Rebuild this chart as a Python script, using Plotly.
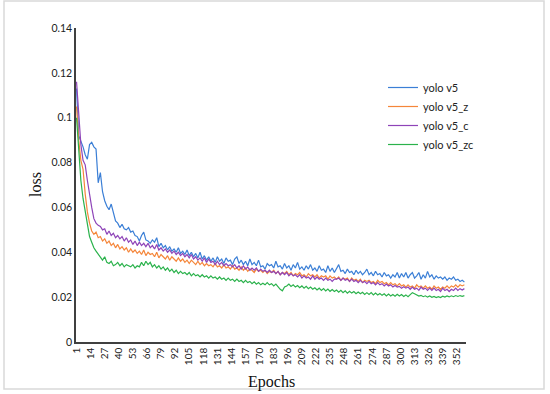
import plotly.graph_objects as go

# Epochs plotted every 2nd epoch (1, 3, 5, ..., 359)
yolo_v5 = [0.1130, 0.0920, 0.0895, 0.0870, 0.0835, 0.0815, 0.0880, 0.0890, 0.0870, 0.0860,
           0.0710, 0.0755, 0.0670, 0.0630, 0.0605, 0.0590, 0.0615, 0.0570, 0.0540, 0.0530,
           0.0510, 0.0525, 0.0505, 0.0500, 0.0510, 0.0490, 0.0495, 0.0475, 0.0470, 0.0450,
           0.0475, 0.0490, 0.0455, 0.0450, 0.0440, 0.0455, 0.0445, 0.0465, 0.0425, 0.0440,
           0.0420, 0.0430, 0.0410, 0.0425, 0.0405, 0.0415, 0.0400, 0.0420, 0.0395, 0.0405,
           0.0390, 0.0410, 0.0385, 0.0400, 0.0380, 0.0395, 0.0375, 0.0400, 0.0370, 0.0385,
           0.0365, 0.0380, 0.0360, 0.0375, 0.0355, 0.0380, 0.0360, 0.0370, 0.0350, 0.0375,
           0.0360, 0.0365, 0.0345, 0.0370, 0.0380, 0.0350, 0.0365, 0.0345, 0.0360, 0.0340,
           0.0370, 0.0345, 0.0355, 0.0340, 0.0365, 0.0335, 0.0340, 0.0325, 0.0350, 0.0340,
           0.0345, 0.0330, 0.0360, 0.0335, 0.0340, 0.0325, 0.0350, 0.0330, 0.0340, 0.0320,
           0.0345, 0.0330, 0.0355, 0.0325, 0.0335, 0.0320, 0.0340, 0.0325, 0.0345, 0.0320,
           0.0330, 0.0315, 0.0340, 0.0320, 0.0325, 0.0310, 0.0340, 0.0315, 0.0330, 0.0310,
           0.0325, 0.0345, 0.0315, 0.0320, 0.0305, 0.0325, 0.0310, 0.0315, 0.0300, 0.0320,
           0.0305, 0.0315, 0.0300, 0.0310, 0.0325, 0.0300, 0.0310, 0.0295, 0.0315, 0.0300,
           0.0305, 0.0290, 0.0310, 0.0295, 0.0300, 0.0285, 0.0300, 0.0290, 0.0310, 0.0285,
           0.0305, 0.0290, 0.0310, 0.0285, 0.0300, 0.0310, 0.0285, 0.0295, 0.0310, 0.0280,
           0.0300, 0.0285, 0.0315, 0.0290, 0.0300, 0.0280, 0.0295, 0.0285, 0.0290, 0.0280,
           0.0290, 0.0275, 0.0285, 0.0280, 0.0290, 0.0275, 0.0280, 0.0270, 0.0275, 0.0268]

yolo_v5_z = [0.1050, 0.0900, 0.0810, 0.0770, 0.0660, 0.0580, 0.0530, 0.0495, 0.0480, 0.0490,
             0.0465, 0.0470, 0.0450, 0.0460, 0.0440, 0.0450, 0.0430, 0.0440, 0.0420, 0.0435,
             0.0415, 0.0425, 0.0410, 0.0420, 0.0400, 0.0415, 0.0400, 0.0410, 0.0395, 0.0405,
             0.0390, 0.0410, 0.0385, 0.0400, 0.0390, 0.0395, 0.0380, 0.0400, 0.0375, 0.0390,
             0.0380, 0.0370, 0.0385, 0.0365, 0.0380, 0.0370, 0.0360, 0.0375, 0.0360, 0.0370,
             0.0355, 0.0365, 0.0350, 0.0365, 0.0355, 0.0345, 0.0360, 0.0345, 0.0355, 0.0340,
             0.0350, 0.0340, 0.0345, 0.0335, 0.0350, 0.0335, 0.0340, 0.0330, 0.0345, 0.0330,
             0.0335, 0.0325, 0.0340, 0.0325, 0.0330, 0.0320, 0.0335, 0.0320, 0.0330, 0.0315,
             0.0325, 0.0320, 0.0310, 0.0325, 0.0315, 0.0320, 0.0310, 0.0320, 0.0305, 0.0315,
             0.0310, 0.0320, 0.0305, 0.0315, 0.0300, 0.0310, 0.0305, 0.0315, 0.0300, 0.0310,
             0.0295, 0.0305, 0.0300, 0.0310, 0.0295, 0.0300, 0.0290, 0.0305, 0.0295, 0.0300,
             0.0290, 0.0300, 0.0285, 0.0295, 0.0290, 0.0295, 0.0280, 0.0295, 0.0285, 0.0290,
             0.0280, 0.0290, 0.0275, 0.0285, 0.0280, 0.0285, 0.0270, 0.0285, 0.0275, 0.0280,
             0.0270, 0.0280, 0.0265, 0.0275, 0.0270, 0.0275, 0.0265, 0.0270, 0.0260, 0.0275,
             0.0265, 0.0270, 0.0260, 0.0265, 0.0255, 0.0265, 0.0255, 0.0260, 0.0250, 0.0260,
             0.0250, 0.0255, 0.0245, 0.0255, 0.0245, 0.0250, 0.0240, 0.0255, 0.0245, 0.0250,
             0.0240, 0.0250, 0.0240, 0.0245, 0.0235, 0.0250, 0.0240, 0.0245, 0.0235, 0.0245,
             0.0240, 0.0250, 0.0240, 0.0250, 0.0245, 0.0255, 0.0245, 0.0255, 0.0250, 0.0255]

yolo_v5_c = [0.1160, 0.1000, 0.0880, 0.0810, 0.0790, 0.0720, 0.0650, 0.0600, 0.0550, 0.0530,
             0.0520, 0.0515, 0.0500, 0.0505, 0.0480, 0.0495, 0.0475, 0.0485, 0.0465, 0.0475,
             0.0460, 0.0470, 0.0450, 0.0465, 0.0445, 0.0455, 0.0435, 0.0450, 0.0430, 0.0445,
             0.0430, 0.0440, 0.0425, 0.0440, 0.0420, 0.0430, 0.0415, 0.0435, 0.0410, 0.0420,
             0.0405, 0.0415, 0.0400, 0.0410, 0.0395, 0.0405, 0.0390, 0.0400, 0.0385, 0.0395,
             0.0380, 0.0390, 0.0375, 0.0390, 0.0370, 0.0380, 0.0365, 0.0375, 0.0360, 0.0375,
             0.0355, 0.0370, 0.0355, 0.0360, 0.0345, 0.0360, 0.0345, 0.0355, 0.0340, 0.0350,
             0.0340, 0.0345, 0.0335, 0.0345, 0.0330, 0.0340, 0.0325, 0.0340, 0.0325, 0.0335,
             0.0320, 0.0330, 0.0320, 0.0330, 0.0315, 0.0325, 0.0315, 0.0320, 0.0310, 0.0320,
             0.0310, 0.0315, 0.0305, 0.0315, 0.0300, 0.0310, 0.0300, 0.0310, 0.0295, 0.0305,
             0.0295, 0.0300, 0.0290, 0.0300, 0.0285, 0.0295, 0.0285, 0.0290, 0.0280, 0.0295,
             0.0280, 0.0290, 0.0280, 0.0285, 0.0275, 0.0285, 0.0275, 0.0280, 0.0270, 0.0280,
             0.0280, 0.0285, 0.0275, 0.0285, 0.0275, 0.0280, 0.0270, 0.0280, 0.0270, 0.0275,
             0.0265, 0.0275, 0.0265, 0.0270, 0.0260, 0.0270, 0.0260, 0.0265, 0.0255, 0.0265,
             0.0255, 0.0260, 0.0250, 0.0258, 0.0250, 0.0255, 0.0245, 0.0252, 0.0245, 0.0248,
             0.0240, 0.0246, 0.0240, 0.0245, 0.0235, 0.0245, 0.0235, 0.0240, 0.0230, 0.0245,
             0.0235, 0.0240, 0.0230, 0.0240, 0.0230, 0.0240, 0.0230, 0.0235, 0.0225, 0.0240,
             0.0230, 0.0235, 0.0225, 0.0235, 0.0230, 0.0240, 0.0230, 0.0238, 0.0232, 0.0238]

yolo_v5_zc = [0.1000, 0.0850, 0.0720, 0.0640, 0.0580, 0.0520, 0.0470, 0.0445, 0.0420, 0.0405,
              0.0390, 0.0375, 0.0365, 0.0380, 0.0355, 0.0350, 0.0360, 0.0340, 0.0345, 0.0355,
              0.0340, 0.0350, 0.0335, 0.0345, 0.0340, 0.0335, 0.0345, 0.0330, 0.0340, 0.0335,
              0.0355, 0.0340, 0.0360, 0.0345, 0.0355, 0.0335, 0.0345, 0.0330, 0.0340, 0.0325,
              0.0335, 0.0320, 0.0330, 0.0315, 0.0325, 0.0310, 0.0320, 0.0305, 0.0315, 0.0305,
              0.0310, 0.0300, 0.0310, 0.0295, 0.0305, 0.0295, 0.0300, 0.0290, 0.0300, 0.0290,
              0.0295, 0.0285, 0.0295, 0.0285, 0.0290, 0.0280, 0.0290, 0.0280, 0.0285, 0.0275,
              0.0285, 0.0275, 0.0280, 0.0270, 0.0280, 0.0270, 0.0275, 0.0265, 0.0275, 0.0265,
              0.0270, 0.0260, 0.0268, 0.0258, 0.0265, 0.0255, 0.0262, 0.0255, 0.0265, 0.0255,
              0.0260, 0.0250, 0.0258, 0.0245, 0.0235, 0.0228, 0.0245, 0.0250, 0.0258, 0.0248,
              0.0255, 0.0245, 0.0252, 0.0242, 0.0250, 0.0240, 0.0248, 0.0238, 0.0245, 0.0235,
              0.0242, 0.0232, 0.0240, 0.0230, 0.0238, 0.0228, 0.0236, 0.0226, 0.0234, 0.0225,
              0.0232, 0.0222, 0.0230, 0.0220, 0.0228, 0.0218, 0.0226, 0.0218, 0.0225, 0.0215,
              0.0223, 0.0215, 0.0222, 0.0212, 0.0220, 0.0212, 0.0220, 0.0210, 0.0218, 0.0210,
              0.0216, 0.0208, 0.0215, 0.0205, 0.0214, 0.0205, 0.0212, 0.0204, 0.0213, 0.0205,
              0.0212, 0.0203, 0.0210, 0.0202, 0.0210, 0.0220, 0.0215, 0.0210, 0.0205, 0.0208,
              0.0202, 0.0206, 0.0200, 0.0205, 0.0199, 0.0203, 0.0198, 0.0202, 0.0198, 0.0204,
              0.0200, 0.0205, 0.0201, 0.0206, 0.0202, 0.0207, 0.0203, 0.0207, 0.0204, 0.0207]

series_names = ["yolo v5", "yolo v5_z", "yolo v5_c", "yolo v5_zc"]
series_values = [yolo_v5, yolo_v5_z, yolo_v5_c, yolo_v5_zc]
series_colors = ["#3b7fd6", "#f5863a", "#8e44b8", "#2bb24c"]

x_tick_labels = [str(v) for v in range(1, 353, 13)]
y_tick_values = [0, 0.02, 0.04, 0.06, 0.08, 0.1, 0.12, 0.14]
y_tick_labels = ["0", "0.02", "0.04", "0.06", "0.08", "0.1", "0.12", "0.14"]

fig = go.Figure()
for name, vals, col in zip(series_names, series_values, series_colors):
    epochs = list(range(1, 2 * len(vals) + 1, 2))
    fig.add_trace(go.Scatter(x=epochs, y=vals, mode="lines", name=name,
                             line=dict(color=col, width=1.2)))

W, H = 550, 394
L, R, T, B = 76, 84, 28, 52
pw, ph = W - L - R, H - T - B

def px(xp):
    return (xp - L) / pw

def py(yp):
    return (H - B - yp) / ph

fig.update_layout(
    width=W, height=H,
    margin=dict(l=L, r=R, t=T, b=B),
    paper_bgcolor="white", plot_bgcolor="white",
    font=dict(family="Lato, Liberation Sans, sans-serif", color="#222222"),
    showlegend=True,
    legend=dict(x=px(383), y=py(73), xanchor="left", yanchor="top",
                font=dict(size=11, family="Lato, sans-serif", color="#222222"),
                bgcolor="rgba(0,0,0,0)", tracegroupgap=0),
    xaxis=dict(range=[0.5, 360.5], tickmode="array",
               tickvals=[int(t) for t in x_tick_labels], ticktext=x_tick_labels,
               tickangle=-90, tickfont=dict(size=10), showgrid=False, zeroline=False,
               showline=True, linecolor="#404040", linewidth=1.5, ticks=""),
    yaxis=dict(range=[0, 0.14], tickmode="array", tickvals=y_tick_values,
               ticktext=y_tick_labels, tickfont=dict(size=10.5), showgrid=False,
               zeroline=False, showline=True, linecolor="#404040", linewidth=1.5,
               ticks="", ticklen=0),
    annotations=[
        dict(text="Epochs", x=0.5, y=py(382), xref="paper", yref="paper",
             showarrow=False, xanchor="center", yanchor="middle",
             font=dict(family="Liberation Serif, serif", size=16, color="#111111")),
        dict(text="loss", x=px(35), y=0.5, xref="paper", yref="paper",
             showarrow=False, textangle=-90, xanchor="center", yanchor="middle",
             font=dict(family="Liberation Serif, serif", size=16, color="#111111")),
    ],
    shapes=[
        dict(type="rect", xref="paper", yref="paper",
             x0=px(4), x1=px(544), y0=py(389), y1=py(1),
             line=dict(color="#d9d9d9", width=1.5), fillcolor="rgba(0,0,0,0)",
             layer="below"),
    ],
)

fig.write_html("out.html", config={"displayModeBar": False},
               post_script="document.body.style.margin='0';")
